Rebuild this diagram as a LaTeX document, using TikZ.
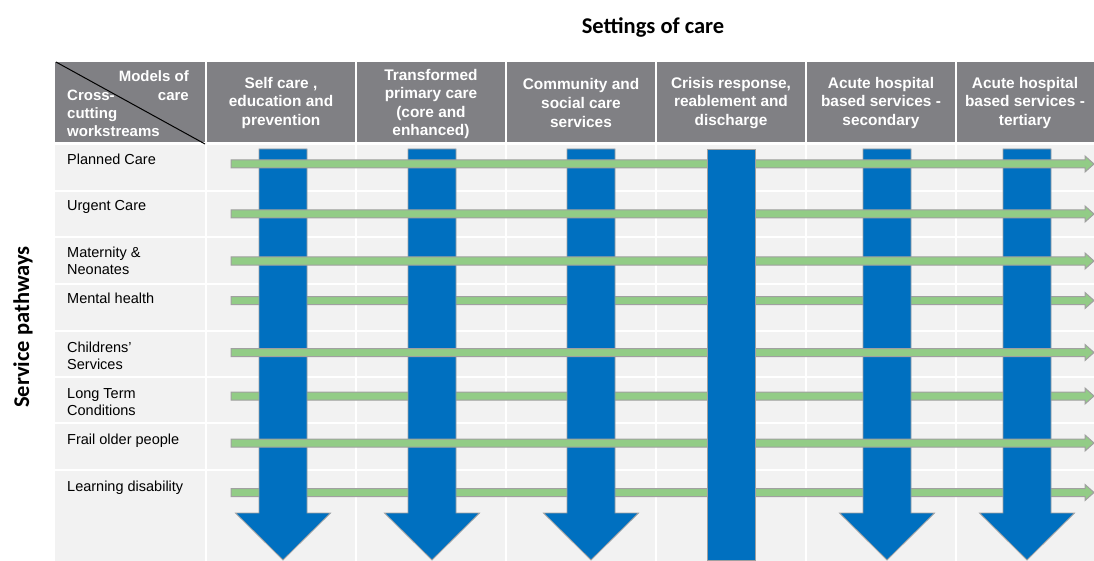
\documentclass[tikz,border=0pt]{standalone}
\usepackage{fontspec}
\setmainfont{Liberation Sans}
\newfontfamily\titlefont{Carlito}
\usetikzlibrary{calc}
\definecolor{hdr}{RGB}{128,128,132}
\definecolor{bodybg}{RGB}{242,242,242}
\definecolor{blu}{RGB}{0,112,192}
\definecolor{grn}{RGB}{146,204,134}
\definecolor{edge}{RGB}{160,160,160}
\newcommand{\grnarrow}[2]{%
  \coordinate (#1s) at (231,#2);
  \coordinate (#1e) at (1094,#2);
  \draw[greenarr] ($(#1s)+(0,-4)$) -- ($(#1e)+(-9,-4)$) -- ($(#1e)+(-9,-8)$) -- (#1e)
    -- ($(#1e)+(-9,8)$) -- ($(#1e)+(-9,4)$) -- ($(#1s)+(0,4)$) -- cycle;}
\newcommand{\bluarrow}[2]{%
  \coordinate (#1t) at (#2,149);
  \coordinate (#1b) at (#2,560);
  \draw[bluearr] ($(#1t)+(-24,0)$) -- ($(#1t)+(24,0)$) -- ($(#1b)+(24,-47)$) -- ($(#1b)+(47.5,-47)$)
    -- (#1b) -- ($(#1b)+(-47.5,-47)$) -- ($(#1b)+(-24,-47)$) -- cycle;}
\begin{document}
\begin{tikzpicture}[x=1pt,y=-1pt,
  hdrtext/.style={text=white,font=\fontsize{15.4}{18.6}\selectfont\bfseries,align=center,inner sep=0},
  hdrcorner/.style={text=white,font=\fontsize{15}{18.3}\selectfont\bfseries,inner sep=0},
  rowtext/.style={font=\fontsize{14.5}{17}\selectfont,align=left,anchor=base west,inner sep=0},
  titletext/.style={font=\titlefont\fontsize{22.5}{26}\selectfont\bfseries,inner sep=0},
  greenarr/.style={fill=grn,draw=edge,line width=1},
  bluearr/.style={fill=blu,draw=edge,line width=0.8},
  gridline/.style={draw=white,line width=2}]
\useasboundingbox (0,0) rectangle (1094,561);
\fill[white] (0,0) rectangle (1094,561);
% titles
\node[titletext] (title) at (653,27) {Settings of care};
\node[titletext,rotate=90] (side) at (23,327) {Service pathways};
% header band
\fill[hdr] (55,62) rectangle (1094,142);
\foreach \x in {206,356,506,656,806,956} \draw[gridline] (\x,62) -- (\x,142);
% body
\fill[bodybg] (55,145) rectangle (1094,561);
\foreach \x in {206,356,506,656,806,956} \draw[gridline] (\x,145) -- (\x,561);
\foreach \y in {191,237,284,331,377,423,470} \draw[gridline] (55,\y) -- (1094,\y);
% corner cell
\coordinate (cornerA) at (56,62);
\coordinate (cornerB) at (205,144);
\draw[black,line width=1] (cornerA) -- (cornerB);
\node[hdrcorner,anchor=base east] (m1) at (189,82) {Models of};
\node[hdrcorner,anchor=base west] (c1) at (67,100.5) {Cross-};
\node[hdrcorner,anchor=base east] (m2) at (189,100.5) {care};
\node[hdrcorner,anchor=base west] (c2) at (67,119) {cutting};
\node[hdrcorner,anchor=base west] (c3) at (67,137) {workstreams};
% header texts
\node[hdrtext] (h1) at (281,103) {Self care ,\\education and\\prevention};
\node[hdrtext] (h2) at (431,104) {Transformed\\primary care\\(core and\\enhanced)};
\node[hdrtext] (h3) at (581,103) {Community and\\social care\\services};
\node[hdrtext] (h4) at (731,103) {Crisis response,\\reablement and\\discharge};
\node[hdrtext] (h5) at (881,103) {Acute hospital\\based services -\\secondary};
\node[hdrtext] (h6) at (1025,103) {Acute hospital\\based services -\\tertiary};
% row labels (base anchor = last line baseline)
\node[rowtext] (r1) at (67,165) {Planned Care};
\node[rowtext] (r2) at (67,211) {Urgent Care};
\node[rowtext] (r3) at (67,274) {Maternity \&\\Neonates};
\node[rowtext] (r4) at (67,303) {Mental health};
\node[rowtext] (r5) at (67,369) {Childrens'\\Services};
\node[rowtext] (r6) at (67,415) {Long Term\\Conditions};
\node[rowtext] (r7) at (67,444) {Frail older people};
\node[rowtext] (r8) at (67,491) {Learning disability};
% green arrows beneath the blue ones
\grnarrow{g4}{300.5}
\grnarrow{g6}{396}
\grnarrow{g8}{492.5}
% blue arrows
\bluarrow{b1}{283}
\bluarrow{b2}{432}
\bluarrow{b3}{591}
\bluarrow{b5}{887}
\bluarrow{b6}{1027}
% green arrows above
\grnarrow{g1}{164}
\grnarrow{g2}{214}
\grnarrow{g3}{261}
\grnarrow{g5}{352.5}
\grnarrow{g7}{443}
% crisis column bar
\coordinate (b4t) at (707,149);
\coordinate (b4b) at (755,560);
\draw[bluearr] (b4t) rectangle (b4b);
\end{tikzpicture}
\end{document}
